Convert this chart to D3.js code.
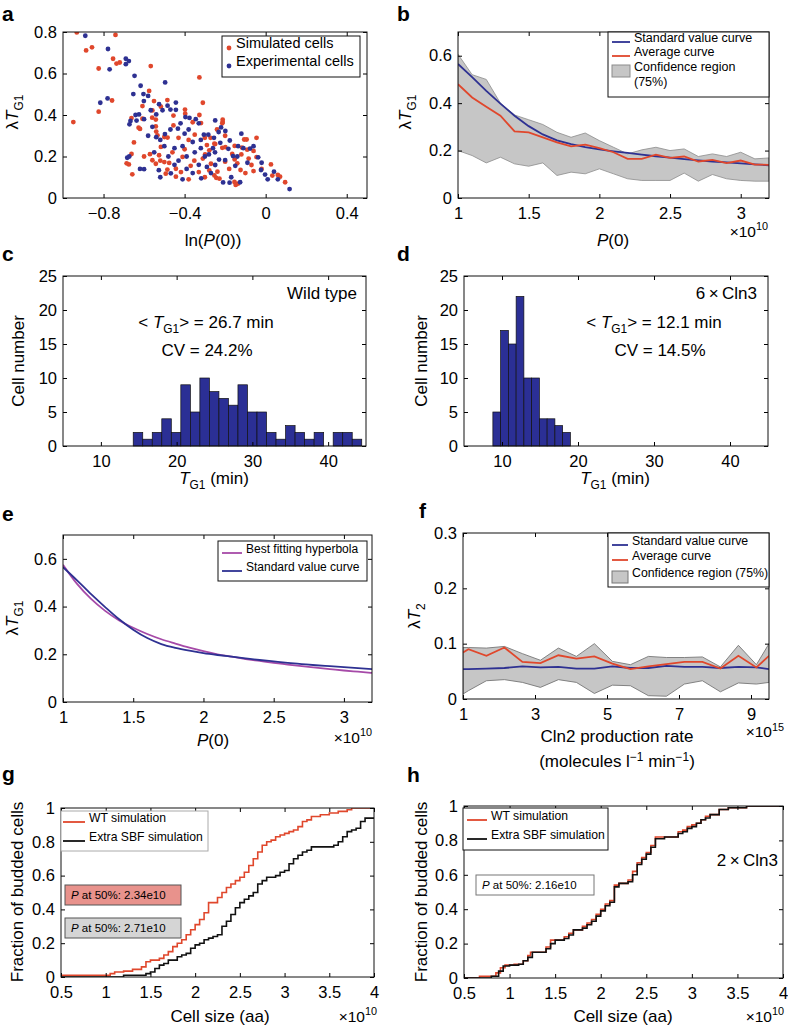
<!DOCTYPE html>
<html><head><meta charset="utf-8">
<script src="https://cdn.jsdelivr.net/npm/d3@7"></script>
<style>
body{margin:0;background:#fff}
svg text{font-family:"Liberation Sans",Arial,Helvetica,sans-serif;fill:#000}
</style></head><body>
<svg id="fig" width="788" height="1026"></svg>
<script>
// ---------- DATA ----------
// Panel a: scatter (ln P(0), lambda*T_G1)
const simCells = [
[-0.932,0.798],[-0.741,0.786],[-0.857,0.726],[-0.886,0.711],[-0.753,0.671],[-0.736,0.648],[-0.72,0.653],[-0.824,0.624],[-0.567,0.636],[-0.327,0.581],
[-0.575,0.516],[-0.758,0.47],[-0.608,0.443],[-0.551,0.467],[-0.485,0.472],[-0.31,0.459],[-0.824,0.416],[-0.949,0.366],[-0.517,0.44],[-0.327,0.40],
[-0.662,0.385],[-0.608,0.382],[-0.56,0.387],[-0.397,0.406],[-0.627,0.339],[-0.62,0.333],[-0.65,0.268],[-0.54,0.32],[-0.662,0.212],[-0.686,0.167],
[-0.675,0.162],[-0.658,0.114],[-0.571,0.211],[-0.52,0.18],[-0.485,0.137],[-0.443,0.103],[-0.559,0.422],[-0.542,0.378],[-0.455,0.397],[-0.398,0.426],
[-0.319,0.361],[-0.542,0.345],[-0.534,0.302],[-0.5,0.294],[-0.484,0.291],[-0.517,0.246],[-0.526,0.206],[-0.559,0.182],[-0.542,0.165],[-0.5,0.173],
[-0.476,0.169],[-0.41,0.198],[-0.443,0.141],[-0.418,0.125],[-0.493,0.117],[-0.352,0.18],[-0.299,0.21],[-0.278,0.23],[-0.253,0.262],[-0.212,0.366],
[-0.212,0.377],[-0.278,0.133],[-0.253,0.109],[-0.228,0.093],[-0.154,0.077],[-0.137,0.069],[-0.214,0.36],[-0.272,0.29],[-0.249,0.26],[-0.214,0.242],
[-0.199,0.245],[-0.153,0.251],[-0.106,0.282],[-0.094,0.282],[-0.045,0.29],[-0.06,0.227],[-0.045,0.197],[-0.153,0.186],[-0.14,0.167],[-0.124,0.135],
[-0.07,0.159],[-0.06,0.13],[0.026,0.162],[0.033,0.108],[0.06,0.111],[0.071,0.103],[0.096,0.076],[-0.148,0.063],[-0.244,0.097],[-0.238,0.127],
[-0.084,0.19],[-0.091,0.233],[-0.117,0.243],[-0.165,0.212],[-0.3,0.29],[-0.38,0.28],[-0.4,0.235],[-0.37,0.155],[-0.33,0.125],[-0.31,0.19],
[-0.46,0.22],[-0.43,0.29],[-0.35,0.305],[-0.29,0.255],[-0.27,0.165],[-0.2,0.175],[-0.18,0.14],[-0.1,0.12],[-0.02,0.14],[-0.3,0.1],
[-0.38,0.09],[-0.2,0.3],[-0.24,0.33],[-0.12,0.21],[-0.455,0.35],[-0.36,0.365],[-0.6,0.2]
];
const expCells = [
[-0.89,0.782],[-0.778,0.718],[-0.69,0.671],[-0.675,0.66],[-0.69,0.645],[-0.77,0.62],[-0.647,0.589],[-0.496,0.557],[-0.617,0.541],[-0.653,0.501],
[-0.603,0.501],[-0.58,0.492],[-0.816,0.459],[-0.78,0.48],[-0.601,0.467],[-0.484,0.445],[-0.526,0.452],[-0.443,0.46],[-0.567,0.423],[-0.509,0.423],
[-0.47,0.426],[-0.443,0.425],[-0.642,0.40],[-0.625,0.403],[-0.54,0.403],[-0.396,0.39],[-0.376,0.386],[-0.345,0.38],[-0.667,0.371],[-0.637,0.373],
[-0.672,0.355],[-0.559,0.343],[-0.54,0.293],[-0.497,0.308],[-0.433,0.334],[-0.683,0.194],[-0.673,0.2],[-0.6,0.139],[-0.527,0.134],[-0.468,0.119],
[-0.249,0.374],[-0.305,0.305],[-0.283,0.305],[-0.255,0.29],[-0.232,0.318],[-0.199,0.323],[-0.224,0.266],[-0.184,0.237],[-0.177,0.277],[-0.136,0.25],
[-0.11,0.24],[-0.077,0.238],[-0.037,0.196],[-0.161,0.202],[-0.023,0.135],[-0.003,0.113],[0.041,0.127],[0.118,0.043],[-0.178,0.074],[-0.126,0.076],
[-0.318,0.095],[-0.249,0.159],[-0.2,0.183],[-0.42,0.36],[-0.4,0.31],[-0.38,0.33],[-0.36,0.27],[-0.41,0.25],[-0.45,0.24],[-0.48,0.2],
[-0.43,0.18],[-0.39,0.2],[-0.35,0.22],[-0.32,0.24],[-0.3,0.2],[-0.28,0.21],[-0.26,0.24],[-0.33,0.16],[-0.29,0.15],[-0.41,0.09],
[-0.45,0.16],[-0.5,0.25],[-0.52,0.28],[-0.58,0.3],[-0.6,0.38],[-0.25,0.22],[-0.23,0.185],[-0.17,0.1],[-0.21,0.075],[-0.27,0.12],
[-0.36,0.12],[-0.39,0.14],[-0.52,0.1],[-0.15,0.155],[-0.09,0.17],[-0.06,0.25],[-0.12,0.31],[-0.22,0.34],[-0.33,0.36],[-0.47,0.33],
[-0.55,0.22],[-0.62,0.14],[-0.32,0.28],[-0.14,0.2],[0.01,0.09],[0.06,0.09],[-0.02,0.17]
];
const aXTicks = [-0.8,-0.4,0,0.4], aYTicks = [0,0.2,0.4,0.6,0.8];

// Panels b & e: P(0) in units of 1e10
const p0 = [1.0,1.1,1.2,1.3,1.4,1.5,1.6,1.7,1.8,1.9,2.0,2.1,2.2,2.3,2.4,2.5,2.6,2.7,2.8,2.9,3.0,3.1,3.2];
const stdCurve = [0.565,0.51,0.452,0.398,0.347,0.303,0.268,0.243,0.227,0.215,0.205,0.197,0.19,0.183,0.176,0.17,0.164,0.159,0.154,0.15,0.146,0.142,0.138];
const avgCurveB = [0.48,0.424,0.385,0.347,0.281,0.277,0.256,0.235,0.218,0.225,0.21,0.193,0.165,0.165,0.183,0.169,0.175,0.154,0.161,0.147,0.158,0.141,0.14];
const confHiB = [0.606,0.52,0.50,0.40,0.35,0.33,0.31,0.277,0.256,0.274,0.242,0.214,0.186,0.203,0.214,0.20,0.207,0.175,0.186,0.175,0.193,0.165,0.169];
const confLoB = [0.20,0.179,0.148,0.172,0.144,0.134,0.148,0.095,0.109,0.102,0.123,0.102,0.081,0.074,0.074,0.074,0.105,0.071,0.099,0.081,0.074,0.071,0.071];
const hyperbola = [0.575,0.495,0.432,0.382,0.342,0.311,0.285,0.263,0.245,0.228,0.213,0.2,0.19,0.18,0.172,0.164,0.157,0.15,0.144,0.138,0.132,0.127,0.122];
const pXTicks = [1,1.5,2,2.5,3], lamYTicks = [0,0.2,0.4,0.6];

// Panels c & d: histograms of T_G1 (min)
const wtBinStart = 14.27, wtBinWidth = 1.257;
const wtCounts = [2,1,2,4,2,9,5,10,8,7,6,9,5,5,2,1,3,2,1,2,0,2,2,1];
const cln3BinStart = 8.8, cln3BinWidth = 1.02;
const cln3Counts = [5,17,15,22,10,10,4,4,3,2];
const histXTicks = [10,20,30,40], histYTicks = [0,5,10,15,20,25];

// Panel f: Cln2 production rate (1e15)
const fRate = [1.0,1.15,1.65,2.15,2.65,3.15,3.65,4.15,4.65,5.15,5.65,6.15,6.65,7.15,7.65,8.15,8.65,9.15,9.5];
const fAvg = [0.084,0.09,0.078,0.093,0.067,0.065,0.079,0.073,0.077,0.064,0.054,0.059,0.063,0.067,0.067,0.055,0.078,0.057,0.078];
const fStd = [0.054,0.054,0.055,0.056,0.059,0.057,0.058,0.055,0.055,0.059,0.056,0.056,0.06,0.058,0.058,0.056,0.058,0.057,0.054];
const fHi = [0.093,0.093,0.092,0.095,0.082,0.07,0.092,0.077,0.1,0.068,0.062,0.077,0.075,0.075,0.076,0.058,0.097,0.062,0.1];
const fLo = [0.009,0.015,0.033,0.035,0.03,0.021,0.035,0.03,0.01,0.025,0.024,0.006,0.005,0.027,0.033,0.013,0.029,0.027,0.03];
const fXTicks = [1,3,5,7,9], fYTicks = [0,0.1,0.2,0.3];

// Panels g & h: cumulative fraction of budded cells vs cell size (1e10 aa)
const gWTx = [0.5,1.05,1.1,1.2,1.3,1.4,1.45,1.5,1.6,1.65,1.7,1.75,1.8,1.85,1.9,1.95,2.0,2.05,2.1,2.15,2.2,2.25,2.3,2.35,2.4,2.45,2.5,2.55,2.6,2.65,2.7,2.75,2.8,2.85,2.9,2.95,3.0,3.05,3.1,3.15,3.2,3.25,3.3,3.4,3.5,3.6,3.7,3.75,4.0];
const gWTy = [0.01,0.02,0.03,0.035,0.045,0.06,0.09,0.1,0.11,0.13,0.15,0.18,0.2,0.22,0.25,0.28,0.31,0.34,0.38,0.44,0.44,0.47,0.5,0.53,0.55,0.57,0.59,0.62,0.66,0.7,0.74,0.78,0.8,0.81,0.83,0.84,0.85,0.86,0.87,0.89,0.92,0.93,0.95,0.96,0.97,0.98,0.99,1.0,1.0];
const gSBFx = [0.5,1.2,1.45,1.5,1.55,1.6,1.65,1.7,1.75,1.8,1.85,1.9,1.95,2.0,2.05,2.1,2.15,2.2,2.25,2.3,2.35,2.4,2.45,2.5,2.55,2.6,2.65,2.7,2.75,2.8,2.85,2.9,2.95,3.0,3.05,3.1,3.15,3.2,3.25,3.3,3.4,3.5,3.55,3.6,3.65,3.7,3.75,3.8,3.85,3.9,4.0];
const gSBFy = [0.0,0.01,0.02,0.03,0.05,0.07,0.08,0.1,0.1,0.12,0.13,0.14,0.17,0.19,0.2,0.22,0.23,0.24,0.25,0.3,0.33,0.37,0.41,0.44,0.46,0.48,0.5,0.55,0.57,0.59,0.59,0.6,0.62,0.63,0.67,0.7,0.72,0.74,0.75,0.77,0.77,0.77,0.78,0.8,0.83,0.86,0.87,0.88,0.92,0.94,0.94];
const hWTx = [0.5,0.67,0.85,0.9,0.95,1.05,1.15,1.2,1.23,1.35,1.4,1.45,1.5,1.6,1.65,1.7,1.8,1.85,1.9,1.95,2.0,2.05,2.1,2.15,2.2,2.3,2.35,2.4,2.45,2.5,2.55,2.6,2.7,2.8,2.85,2.9,2.95,3.0,3.05,3.1,3.15,3.2,3.3,3.4,3.6,4.0];
const hWTy = [0.0,0.01,0.03,0.06,0.075,0.08,0.1,0.13,0.15,0.15,0.18,0.22,0.22,0.24,0.26,0.28,0.3,0.32,0.34,0.37,0.4,0.43,0.45,0.54,0.55,0.57,0.62,0.67,0.7,0.73,0.77,0.82,0.82,0.82,0.85,0.86,0.88,0.89,0.9,0.92,0.94,0.95,0.98,0.99,1.0,1.0];
const hSBFx = [0.5,0.8,0.88,0.93,1.0,1.1,1.15,1.2,1.25,1.35,1.4,1.45,1.5,1.6,1.65,1.7,1.8,1.85,1.9,1.95,2.0,2.05,2.1,2.15,2.2,2.3,2.35,2.4,2.45,2.5,2.55,2.6,2.7,2.8,2.85,2.9,2.95,3.0,3.05,3.1,3.15,3.2,3.3,3.4,3.6,4.0];
const hSBFy = [0.0,0.01,0.04,0.07,0.075,0.08,0.1,0.12,0.15,0.15,0.17,0.2,0.22,0.23,0.25,0.28,0.29,0.31,0.33,0.36,0.39,0.42,0.44,0.53,0.55,0.56,0.6,0.66,0.69,0.72,0.76,0.81,0.82,0.82,0.84,0.85,0.87,0.88,0.9,0.92,0.93,0.95,0.98,0.99,1.0,1.0];
const sizeXTicks = [0.5,1,1.5,2,2.5,3,3.5,4], fracYTicks = [0,0.2,0.4,0.6,0.8,1];

// ---------- STYLE ----------
const RED = "#e0472c", BLUE = "#2e3192", PURPLE = "#a64aa8", BAR = "#2b2f95";
const TICK_FS = 16.5, LAB_FS = 17, NOTE_FS = 17, EXP_FS = 15.5;
const svg = d3.select("#fig");

function rich(t, parts, fs) {
  let shift = 0;
  parts.forEach(p => {
    const ts = t.append("tspan").text(p.t);
    const target = p.sub ? fs * 0.32 : p.sup ? -fs * (p.supShift || 0.42) : 0;
    ts.attr("dy", target - shift); shift = target;
    if (p.sub || p.sup) ts.attr("font-size", fs * 0.7);
    if (p.i) ts.attr("font-style", "italic");
  });
  return t;
}
function label(x, y, parts, opts = {}) {
  const fs = opts.fs || LAB_FS;
  const t = svg.append("text").attr("font-size", fs).attr("text-anchor", opts.anchor || "middle");
  if (opts.rot) t.attr("transform", `translate(${x},${y}) rotate(-90)`);
  else t.attr("x", x).attr("y", y);
  if (opts.bold) t.attr("font-weight", "bold");
  return rich(t, parts, fs);
}
const numFmt = d => d === 0 ? "0" : String(d).replace("-", "\u2212");

function axes(x, y, xt, yt) {
  const [x0, x1] = x.range(), [yb, yt0] = y.range();
  const g = svg.append("g");
  const ax = [
    [d3.axisBottom(x).tickValues(xt).tickFormat(numFmt).tickPadding(9), `translate(0,${yb})`],
    [d3.axisTop(x).tickValues(xt).tickFormat(""), `translate(0,${yt0})`],
    [d3.axisLeft(y).tickValues(yt).tickFormat(numFmt).tickPadding(6), `translate(${x0},0)`],
    [d3.axisRight(y).tickValues(yt).tickFormat(""), `translate(${x1},0)`]
  ];
  ax.forEach(([a, tr]) => {
    const s = g.append("g").attr("transform", tr).call(a.tickSizeInner(-4).tickSizeOuter(0));
    s.select(".domain").remove();
    s.selectAll("text").attr("font-size", TICK_FS).attr("font-family", null);
    s.selectAll("line").attr("stroke", "#000");
  });
  g.append("rect").attr("x", x0).attr("y", yt0).attr("width", x1 - x0).attr("height", yb - yt0)
    .attr("fill", "none").attr("stroke", "#111").attr("stroke-width", 1);
}
function clip(id, x, y) {
  const [x0, x1] = x.range(), [yb, yt0] = y.range();
  svg.append("clipPath").attr("id", id).append("rect").attr("x", x0).attr("y", yt0).attr("width", x1 - x0).attr("height", yb - yt0);
  return svg.append("g").attr("clip-path", `url(#${id})`);
}
function legendBox(x, y, w, h, stroke) {
  svg.append("rect").attr("x", x).attr("y", y).attr("width", w).attr("height", h)
    .attr("fill", "#fff").attr("stroke", stroke || "#111").attr("stroke-width", 1);
}
function legendLine(x1, x2, y, color, parts, fs) {
  svg.append("line").attr("x1", x1).attr("x2", x2).attr("y1", y).attr("y2", y).attr("stroke", color).attr("stroke-width", 1.8);
  label(x2 + 4, y, parts, { fs, anchor: "start" }).attr("dy", "0.35em");
}
const LAM_TG1 = [{ t: "\u03bb" }, { t: "T", i: true }, { t: "G1", sub: true }];
const letters = [["a", 2, 21], ["b", 397, 21], ["c", 2, 261], ["d", 397, 261], ["e", 2, 521], ["f", 419, 518], ["g", 2, 781], ["h", 407, 782]];
letters.forEach(([t, x, y]) => label(x, y, [{ t }], { fs: 21, bold: true, anchor: "start" }));

// ---------- PANEL a ----------
{
  const x = d3.scaleLinear().domain([-1, 0.5]).range([63, 367]);
  const y = d3.scaleLinear().domain([0, 0.8]).range([198, 32]);
  const g = clip("ca", x, y);
  g.selectAll(".r").data(simCells).join("circle").attr("cx", d => x(d[0])).attr("cy", d => y(d[1])).attr("r", 2.4).attr("fill", RED);
  g.selectAll(".b").data(expCells).join("circle").attr("cx", d => x(d[0])).attr("cy", d => y(d[1])).attr("r", 2.4).attr("fill", BLUE);
  axes(x, y, aXTicks, aYTicks);
  legendBox(222, 36, 138, 41);
  svg.append("circle").attr("cx", 229).attr("cy", 48).attr("r", 2.4).attr("fill", RED);
  svg.append("circle").attr("cx", 229).attr("cy", 66).attr("r", 2.4).attr("fill", BLUE);
  label(236, 48, [{ t: "Simulated cells" }], { fs: 14.5, anchor: "start" }).attr("dy", "0.35em");
  label(236, 66, [{ t: "Experimental cells" }], { fs: 14.5, anchor: "start" }).attr("dy", "0.35em");
  label(18, 112, LAM_TG1, { rot: true });
  label(213, 246, [{ t: "ln(" }, { t: "P", i: true }, { t: "(0))" }]);
}
// ---------- PANEL b ----------
{
  const x = d3.scaleLinear().domain([1, 3.2]).range([458, 769]);
  const y = d3.scaleLinear().domain([0, 0.7]).range([198, 32]);
  const g = clip("cb", x, y);
  g.append("path").attr("d", d3.area().x((d, i) => x(p0[i])).y0((d, i) => y(confLoB[i])).y1((d, i) => y(confHiB[i]))(p0))
    .attr("fill", "#c6c6c6").attr("stroke", "#8c8c8c").attr("stroke-width", 0.8);
  const ln = arr => d3.line().x((d, i) => x(p0[i])).y((d, i) => y(arr[i]))(p0);
  g.append("path").attr("d", ln(stdCurve)).attr("fill", "none").attr("stroke", BLUE).attr("stroke-width", 1.8);
  g.append("path").attr("d", ln(avgCurveB)).attr("fill", "none").attr("stroke", RED).attr("stroke-width", 1.8);
  axes(x, y, pXTicks, lamYTicks);
  legendBox(608, 32, 161, 65);
  legendLine(612, 630, 42, BLUE, [{ t: "Standard value curve" }], 12.5);
  legendLine(612, 630, 56, RED, [{ t: "Average curve" }], 12.5);
  svg.append("rect").attr("x", 612).attr("y", 65).attr("width", 18).attr("height", 12).attr("fill", "#c6c6c6").attr("stroke", "#8c8c8c");
  label(634, 71, [{ t: "Confidence region" }], { fs: 12.5, anchor: "start" }).attr("dy", "0.35em");
  label(634, 86, [{ t: "(75%)" }], { fs: 12.5, anchor: "start" }).attr("dy", "0.35em");
  label(411, 112, LAM_TG1, { rot: true });
  label(613, 246, [{ t: "P", i: true }, { t: "(0)" }]);
  label(768, 237, [{ t: "\u00d710" }, { t: "10", sup: true }], { fs: EXP_FS, anchor: "end" });
}
// ---------- PANELS c & d ----------
function hist(x0, x1, start, width, counts, texts) {
  const x = d3.scaleLinear().domain([5, 45]).range([x0, x1]);
  const y = d3.scaleLinear().domain([0, 25]).range([446, 276]);
  const bins = counts.map((c, i) => ({ a: start + i * width, b: start + (i + 1) * width, c })).filter(d => d.c > 0);
  svg.append("g").selectAll("rect").data(bins).join("rect")
    .attr("x", d => x(d.a)).attr("y", d => y(d.c)).attr("width", d => x(d.b) - x(d.a)).attr("height", d => y(0) - y(d.c))
    .attr("fill", BAR).attr("stroke", "#111").attr("stroke-width", 0.7);
  axes(x, y, histXTicks, histYTicks);
  texts();
}
hist(63, 366, wtBinStart, wtBinWidth, wtCounts, () => {
  label(357, 299, [{ t: "Wild type" }], { anchor: "end", fs: NOTE_FS });
  label(206, 328, [{ t: "< " }, { t: "T", i: true }, { t: "G1", sub: true }, { t: "> = 26.7 min" }], { fs: NOTE_FS });
  label(207, 356, [{ t: "CV = 24.2%" }], { fs: NOTE_FS });
  label(24, 361, [{ t: "Cell number" }], { rot: true });
  label(214, 484, [{ t: "T", i: true }, { t: "G1", sub: true }, { t: " (min)" }]);
});
hist(464, 768, cln3BinStart, cln3BinWidth, cln3Counts, () => {
  label(757, 299, [{ t: "6\u2009\u00d7\u2009Cln3" }], { anchor: "end", fs: NOTE_FS });
  label(654, 328, [{ t: "< " }, { t: "T", i: true }, { t: "G1", sub: true }, { t: "> = 12.1 min" }], { fs: NOTE_FS });
  label(660, 356, [{ t: "CV = 14.5%" }], { fs: NOTE_FS });
  label(427, 361, [{ t: "Cell number" }], { rot: true });
  label(615, 484, [{ t: "T", i: true }, { t: "G1", sub: true }, { t: " (min)" }]);
});
// ---------- PANEL e ----------
{
  const x = d3.scaleLinear().domain([1, 3.2]).range([63, 372]);
  const y = d3.scaleLinear().domain([0, 0.7]).range([702, 535]);
  const g = clip("ce", x, y);
  const ln = arr => d3.line().curve(d3.curveMonotoneX).x((d, i) => x(p0[i])).y((d, i) => y(arr[i]))(p0);
  g.append("path").attr("d", ln(hyperbola)).attr("fill", "none").attr("stroke", PURPLE).attr("stroke-width", 1.8);
  g.append("path").attr("d", ln(stdCurve)).attr("fill", "none").attr("stroke", BLUE).attr("stroke-width", 1.8);
  axes(x, y, pXTicks, lamYTicks);
  legendBox(218, 541, 149, 40);
  legendLine(222, 242, 553, PURPLE, [{ t: "Best fitting hyperbola" }], 12);
  legendLine(222, 242, 571, BLUE, [{ t: "Standard value curve" }], 12);
  label(18, 618, LAM_TG1, { rot: true });
  label(213, 746, [{ t: "P", i: true }, { t: "(0)" }]);
  label(372, 743, [{ t: "\u00d710" }, { t: "10", sup: true }], { fs: EXP_FS, anchor: "end" });
}
// ---------- PANEL f ----------
{
  const x = d3.scaleLinear().domain([1, 9.5]).range([463, 769]);
  const y = d3.scaleLinear().domain([0, 0.3]).range([699, 533]);
  const g = clip("cf", x, y);
  g.append("path").attr("d", d3.area().x((d, i) => x(fRate[i])).y0((d, i) => y(fLo[i])).y1((d, i) => y(fHi[i]))(fRate))
    .attr("fill", "#c6c6c6").attr("stroke", "#777").attr("stroke-width", 0.9);
  const ln = arr => d3.line().x((d, i) => x(fRate[i])).y((d, i) => y(arr[i]))(fRate);
  g.append("path").attr("d", ln(fStd)).attr("fill", "none").attr("stroke", BLUE).attr("stroke-width", 1.8);
  g.append("path").attr("d", ln(fAvg)).attr("fill", "none").attr("stroke", RED).attr("stroke-width", 1.8);
  axes(x, y, fXTicks, fYTicks);
  legendBox(608, 533, 161, 54);
  legendLine(612, 628, 545, BLUE, [{ t: "Standard value curve" }], 12.3);
  legendLine(612, 628, 560, RED, [{ t: "Average curve" }], 12.3);
  svg.append("rect").attr("x", 612).attr("y", 571).attr("width", 16).attr("height", 12).attr("fill", "#c6c6c6").attr("stroke", "#777");
  label(632, 577, [{ t: "Confidence region (75%)" }], { fs: 12.3, anchor: "start" }).attr("dy", "0.35em");
  label(420, 616, [{ t: "\u03bb" }, { t: "T", i: true }, { t: "2", sub: true }], { rot: true });
  label(617, 742, [{ t: "Cln2 production rate" }]);
  label(617, 767, [{ t: "(molecules l" }, { t: "\u22121", sup: true, supShift: 0.36 }, { t: " min" }, { t: "\u22121", sup: true, supShift: 0.36 }, { t: ")" }]);
  label(784, 737, [{ t: "\u00d710" }, { t: "15", sup: true, supShift: 0.36 }], { fs: EXP_FS, anchor: "end" });
}
// ---------- PANELS g & h ----------
function cdfPanel(x0, x1, yTop, yBot, wtX, wtY, sbfX, sbfY, extra) {
  const x = d3.scaleLinear().domain([0.5, 4]).range([x0, x1]);
  const y = d3.scaleLinear().domain([0, 1]).range([yBot, yTop]);
  const g = clip("c" + x0, x, y);
  const st = (xs, ys) => d3.line().curve(d3.curveStepAfter).x((d, i) => x(xs[i])).y((d, i) => y(ys[i]))(xs);
  g.append("path").attr("d", st(wtX, wtY)).attr("fill", "none").attr("stroke", RED).attr("stroke-width", 1.6);
  g.append("path").attr("d", st(sbfX, sbfY)).attr("fill", "none").attr("stroke", "#111").attr("stroke-width", 1.6);
  axes(x, y, sizeXTicks, fracYTicks);
  extra(x, y);
}
const pAt = v => [{ t: "P", i: true }, { t: " at 50%: " + v }];
cdfPanel(61, 374, 808, 977, gWTx, gWTy, gSBFx, gSBFy, () => {
  legendBox(61, 811, 147, 40, "#aaa");
  legendLine(63, 85, 822, RED, [{ t: "WT simulation" }], 12.2);
  legendLine(63, 85, 841, "#111", [{ t: "Extra SBF simulation" }], 12.2);
  svg.append("rect").attr("x", 65).attr("y", 885).attr("width", 116).attr("height", 20).attr("fill", "#e8928c").attr("stroke", "#555");
  label(71, 899, pAt("2.34e10"), { fs: 11.5, anchor: "start" });
  svg.append("rect").attr("x", 65).attr("y", 918).attr("width", 116).attr("height", 20).attr("fill", "#d5d5d5").attr("stroke", "#555");
  label(71, 932, pAt("2.71e10"), { fs: 11.5, anchor: "start" });
  label(23, 892, [{ t: "Fraction of budded cells" }], { rot: true });
  label(220, 1022, [{ t: "Cell size (aa)" }]);
  label(377, 1022, [{ t: "\u00d710" }, { t: "10", sup: true }], { fs: EXP_FS, anchor: "end" });
});
cdfPanel(464, 783, 806, 978, hWTx, hWTy, hSBFx, hSBFy, () => {
  legendBox(463, 808, 145, 42);
  legendLine(467, 487, 820, RED, [{ t: "WT simulation" }], 12.2);
  legendLine(467, 487, 839, "#111", [{ t: "Extra SBF simulation" }], 12.2);
  svg.append("rect").attr("x", 476).attr("y", 875).attr("width", 118).attr("height", 20).attr("fill", "#fff").attr("stroke", "#777");
  label(482, 889, pAt("2.16e10"), { fs: 11.5, anchor: "start" });
  label(778, 866, [{ t: "2\u2009\u00d7\u2009Cln3" }], { fs: NOTE_FS, anchor: "end" });
  label(427, 892, [{ t: "Fraction of budded cells" }], { rot: true });
  label(623, 1022, [{ t: "Cell size (aa)" }]);
  label(784, 1022, [{ t: "\u00d710" }, { t: "10", sup: true }], { fs: EXP_FS, anchor: "end" });
});
</script></body></html>
